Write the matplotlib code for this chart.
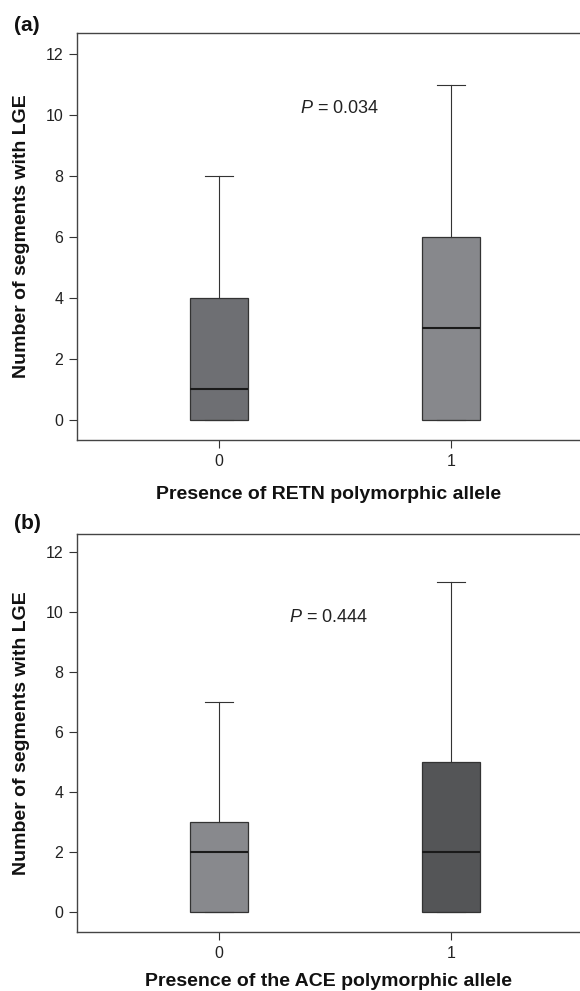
import matplotlib
matplotlib.use("Agg")
import matplotlib.pyplot as plt

plt.rcParams['font.family'] = ['Liberation Sans', 'DejaVu Sans']
plt.rcParams['mathtext.fontset'] = 'custom'
plt.rcParams['mathtext.it'] = 'Liberation Sans:italic'
plt.rcParams['mathtext.rm'] = 'Liberation Sans'

groups = ["0", "1"]
# Panel (a): RETN
a_q1 = [0, 0]
a_med = [1, 3]
a_q3 = [4, 6]
a_lo = [0, 0]
a_hi = [8, 11]
a_colors = ["#6e6f73", "#87888c"]
a_p = "0.034"
a_xlabel = "Presence of RETN polymorphic allele"
# Panel (b): ACE
b_q1 = [0, 0]
b_med = [2, 2]
b_q3 = [3, 5]
b_lo = [0, 0]
b_hi = [7, 11]
b_colors = ["#88898d", "#545557"]
b_p = "0.444"
b_xlabel = "Presence of the ACE polymorphic allele"
ylabel = "Number of segments with LGE"
yticks = [0, 2, 4, 6, 8, 10, 12]

fig = plt.figure(figsize=(5.8, 9.91), dpi=100)
ax_a = fig.add_axes([0.1328, 0.556, 0.8672, 0.4107])
ax_b = fig.add_axes([0.1328, 0.0595, 0.8672, 0.4016])

def panel(ax, q1, med, q3, lo, hi, colors, p, xlabel, label, ptxt_xy, ylim, label_y, xpad):
    stats = []
    for i in range(len(groups)):
        stats.append(dict(q1=q1[i], med=med[i], q3=q3[i], whislo=lo[i], whishi=hi[i], fliers=[], label=groups[i]))
    pos = list(range(len(groups)))
    bp = ax.bxp(stats, positions=pos, widths=0.25, patch_artist=True, showfliers=False,
                boxprops=dict(edgecolor="#333333", linewidth=0.9),
                medianprops=dict(color="#1a1a1a", linewidth=1.5),
                whiskerprops=dict(color="#333333", linewidth=0.8),
                capprops=dict(color="#333333", linewidth=0.8), capwidths=0.12)
    for patch, c in zip(bp['boxes'], colors):
        patch.set_facecolor(c)
    ax.set_xlim(-0.612, 1.556)
    ax.set_ylim(*ylim)
    ax.set_yticks(yticks)
    ax.set_xticks(pos)
    ax.set_xticklabels(groups)
    ax.tick_params(labelsize=11.5, color="#333333", labelcolor="#222222", length=6, width=0.8, pad=4)
    for s in ["left", "bottom", "top"]:
        ax.spines[s].set_color("#444444")
        ax.spines[s].set_linewidth(1.0)
    ax.spines["right"].set_visible(False)
    ax.set_ylabel(ylabel, fontsize=14, fontweight="bold", labelpad=11, color="#111111")
    ax.set_xlabel(xlabel, fontsize=14, fontweight="bold", labelpad=xpad, color="#111111")
    ax.text(ptxt_xy[0], ptxt_xy[1], "$\\it{P}$ = " + p, fontsize=13, ha="center", va="center", color="#222222")
    fig.text(0.024, label_y, label, fontsize=15, fontweight="bold", ha="left", va="bottom", color="#111111")

panel(ax_a, a_q1, a_med, a_q3, a_lo, a_hi, a_colors, a_p, a_xlabel, "(a)", (0.52, 10.2), (-0.66, 12.69), 0.965, 12)
panel(ax_b, b_q1, b_med, b_q3, b_lo, b_hi, b_colors, b_p, b_xlabel, "(b)", (0.47, 9.83), (-0.67, 12.6), 0.462, 9)

fig.savefig("out.png", dpi=100)
